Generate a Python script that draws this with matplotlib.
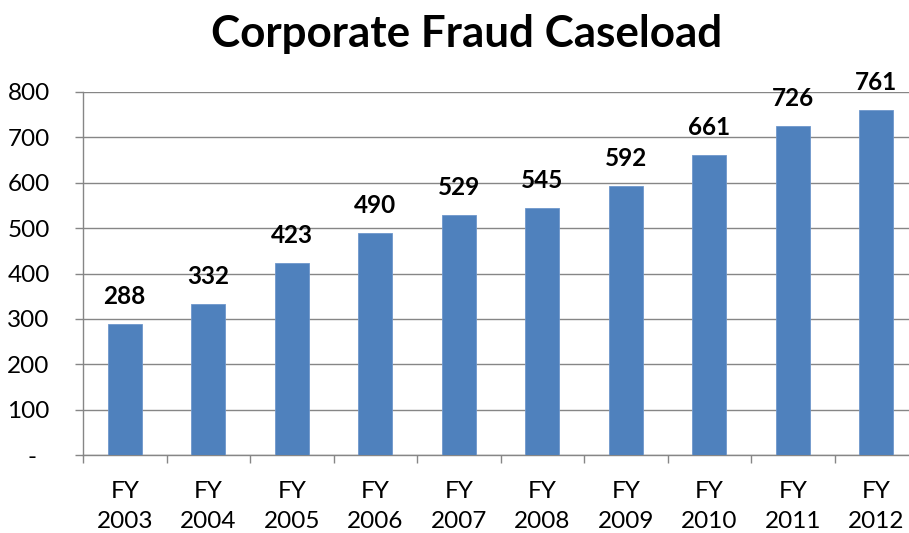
import matplotlib
matplotlib.use("Agg")
import matplotlib.pyplot as plt
import numpy as np

categories = ["FY\n2003", "FY\n2004", "FY\n2005", "FY\n2006", "FY\n2007",
              "FY\n2008", "FY\n2009", "FY\n2010", "FY\n2011", "FY\n2012"]
values = [288, 332, 423, 490, 529, 545, 592, 661, 726, 761]
y_ticks = [0, 100, 200, 300, 400, 500, 600, 700, 800]
y_tick_labels = ["-  ", "100", "200", "300", "400", "500", "600", "700", "800"]
title = "Corporate Fraud Caseload"

plt.rcParams['font.family'] = ['Lato', 'DejaVu Sans']

W, H = 909, 533
fig = plt.figure(figsize=(W / 100, H / 100), dpi=100)
left, right, top, bottom = 83, 918, 92, 455
ax = fig.add_axes([left / W, 1 - bottom / H, (right - left) / W, (bottom - top) / H])

grid_c = "#868686"
bar_c = "#4F81BD"
x = np.arange(len(values))
ax.bar(x, values, width=0.41, color=bar_c, edgecolor="#6E97CC", linewidth=0.6, zorder=3)

for xi, v in zip(x, values):
    ax.annotate(str(v), (xi, v), xytext=(0, 11.5), textcoords="offset points",
                ha="center", va="bottom", fontsize=17.5, fontweight="bold", color="black")

ax.set_xlim(-0.5, len(values) - 0.5)
ax.set_ylim(0, 800)
ax.set_yticks(y_ticks)
ax.set_yticklabels(y_tick_labels)
ax.yaxis.grid(True, color=grid_c, linewidth=1.0, zorder=0)
ax.set_axisbelow(True)

ax.set_xticks(x)
ax.set_xticklabels(categories, linespacing=1.5)
ax.set_xticks(np.arange(-0.5, len(values) + 0.5, 1.0), minor=True)
ax.tick_params(axis="x", which="major", length=0, pad=19, labelsize=17.5)
ax.tick_params(axis="x", which="minor", length=6, width=1.0, color=grid_c)
ax.tick_params(axis="y", which="major", length=6, width=1.0, color=grid_c, pad=18, labelsize=17.5)

for s in ["top", "right"]:
    ax.spines[s].set_visible(False)
for s in ["left", "bottom"]:
    ax.spines[s].set_color(grid_c)
    ax.spines[s].set_linewidth(1.0)

fig.text(467 / W, 1 - 47 / H, title, ha="center", va="baseline",
         fontsize=31.7, fontweight="bold", color="black")

fig.savefig("out.png", dpi=100)
